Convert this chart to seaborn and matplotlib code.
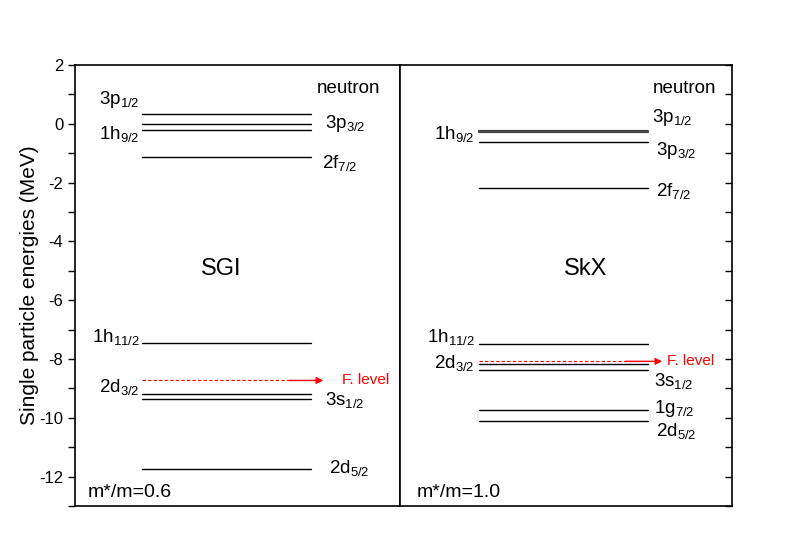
import pandas as pd
import matplotlib.pyplot as plt
import seaborn as sns

# single particle levels (MeV), neutron
sgi_levels = ["3p1/2", "3p3/2", "1h9/2", "2f7/2", "1h11/2", "2d3/2", "3s1/2", "2d5/2"]
sgi_energy = [0.32, -0.02, -0.22, -1.13, -7.44, -9.20, -9.37, -11.74]
sgi_fermi = -8.73

skx_levels = ["3p3/2", "2f7/2", "1h11/2", "2d3/2", "3s1/2", "1g7/2", "2d5/2"]
skx_energy = [-0.63, -2.17, -7.49, -8.18, -8.38, -9.73, -10.12]
# 3p1/2 and 1h9/2 sit almost on top of each other in SkX (thick line)
skx_pair = ["3p1/2", "1h9/2"]
skx_pair_energy = [-0.25, -0.29]
skx_fermi = -8.08

yticks = [2, 0, -2, -4, -6, -8, -10, -12]

sns.set_style("ticks")
plt.rcParams["font.family"] = ["Liberation Sans", "DejaVu Sans"]
plt.rcParams["mathtext.fontset"] = "custom"
plt.rcParams["mathtext.rm"] = "Liberation Sans"
plt.rcParams["mathtext.it"] = "Liberation Sans"
plt.rcParams["axes.unicode_minus"] = False
for k in ("text.color", "axes.labelcolor", "xtick.color", "ytick.color"):
    plt.rcParams[k] = "black"


def lab(s):
    # "3p1/2" -> 3p with subscript 1/2
    i = s.index("/") - 1
    while s[i - 1].isdigit() and i > 2:
        i -= 1
    return s[:i] + r"$_{\mathregular{" + s[i:] + "}}$"


def draw_levels(ax, names, energy, x0, x1, lw=1.0, color="black"):
    rows = []
    for n, e in zip(names, energy):
        rows.append({"level": n, "x": x0, "E": e})
        rows.append({"level": n, "x": x1, "E": e})
    df = pd.DataFrame(rows)
    sns.lineplot(data=df, x="x", y="E", units="level", estimator=None,
                 color=color, linewidth=lw, ax=ax, legend=False)


def fermi(ax, e, x0, x1, x2, tx):
    ax.plot([x0, x1], [e, e], color="red", linestyle=(0, (3, 2)), linewidth=0.8)
    ax.annotate("", xy=(x2, e), xytext=(x1 - 0.02, e),
                arrowprops=dict(arrowstyle="-|>", color="red", lw=1.0,
                                mutation_scale=10, shrinkA=0, shrinkB=0))
    ax.text(tx, e, "F. level", color="red", fontsize=11, va="center")


fig = plt.figure(figsize=(7.89, 5.55), dpi=100)
L, R, B, T = 75 / 789, 732 / 789, 1 - 506 / 555, 1 - 65 / 555
mid = (400 - 75) / (732 - 75)
w = R - L
ax1 = fig.add_axes([L, B, w * mid, T - B])
ax2 = fig.add_axes([L + w * mid, B, w * (1 - mid), T - B], sharey=ax1)

for ax in (ax1, ax2):
    ax.set_xlim(0, 1)
    ax.set_ylim(-13, 2)
    ax.set_xticks([])
    for sp in ax.spines.values():
        sp.set_visible(True)
        sp.set_linewidth(1.2)
        sp.set_color("black")

fs = 13.5
t1 = dict(fontsize=fs, va="center")

# left panel: SGI
draw_levels(ax1, sgi_levels, sgi_energy, 0.206, 0.726)
fermi(ax1, sgi_fermi, 0.206, 0.68, 0.764, 0.82)
ax1.set_xlabel("")
ax1.set_ylabel("Single particle energies (MeV)", fontsize=15, labelpad=0)
ax1.set_yticks(yticks)
ax1.set_yticks(range(-13, 2), minor=True)
ax1.tick_params(axis="y", which="both", direction="out", length=5, width=1.0,
                labelsize=12)

ax1.text(0.20, 0.83, lab("3p1/2"), ha="right", **t1)
ax1.text(0.20, -0.35, lab("1h9/2"), ha="right", **t1)
ax1.text(0.77, 0.0, lab("3p3/2"), ha="left", **t1)
ax1.text(0.76, -1.35, lab("2f7/2"), ha="left", **t1)
ax1.text(0.20, -7.25, lab("1h11/2"), ha="right", **t1)
ax1.text(0.20, -8.95, lab("2d3/2"), ha="right", **t1)
ax1.text(0.77, -9.4, lab("3s1/2"), ha="left", **t1)
ax1.text(0.78, -11.7, lab("2d5/2"), ha="left", **t1)
ax1.text(0.745, 1.2, "neutron", ha="left", fontsize=13.5, va="center")
ax1.text(0.45, -4.95, "SGI", ha="center", fontsize=17, va="center")
ax1.text(0.04, -12.55, "m*/m=0.6", ha="left", fontsize=14, va="center")

# right panel: SkX
draw_levels(ax2, skx_levels, skx_energy, 0.238, 0.747)
draw_levels(ax2, skx_pair, skx_pair_energy, 0.238, 0.747, lw=1.6, color="#444444")
fermi(ax2, skx_fermi, 0.238, 0.70, 0.79, 0.805)
ax2.set_xlabel("")
ax2.set_ylabel("")
ax2.yaxis.tick_right()
ax2.set_yticks(range(-13, 2), minor=True)
ax2.tick_params(axis="y", which="both", direction="in", length=5, width=1.0,
                labelright=False, labelleft=False, left=False)

ax2.text(0.225, -0.35, lab("1h9/2"), ha="right", **t1)
ax2.text(0.76, 0.2, lab("3p1/2"), ha="left", **t1)
ax2.text(0.77, -0.9, lab("3p3/2"), ha="left", **t1)
ax2.text(0.77, -2.3, lab("2f7/2"), ha="left", **t1)
ax2.text(0.225, -7.25, lab("1h11/2"), ha="right", **t1)
ax2.text(0.225, -8.15, lab("2d3/2"), ha="right", **t1)
ax2.text(0.765, -8.75, lab("3s1/2"), ha="left", **t1)
ax2.text(0.765, -9.7, lab("1g7/2"), ha="left", **t1)
ax2.text(0.77, -10.45, lab("2d5/2"), ha="left", **t1)
ax2.text(0.76, 1.2, "neutron", ha="left", fontsize=13.5, va="center")
ax2.text(0.56, -4.95, "SkX", ha="center", fontsize=17, va="center")
ax2.text(0.05, -12.55, "m*/m=1.0", ha="left", fontsize=14, va="center")

fig.savefig("out.png", dpi=100)
